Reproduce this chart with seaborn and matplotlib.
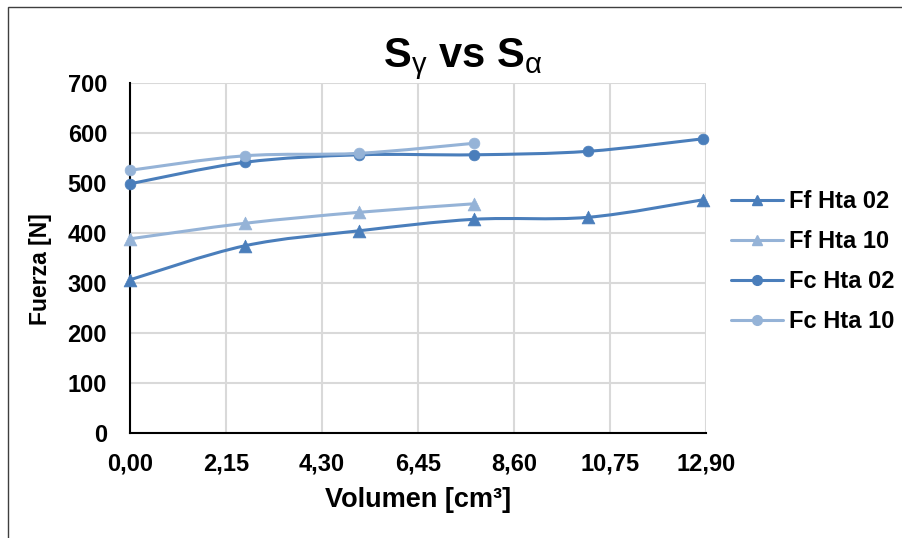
import numpy as np
import pandas as pd
import seaborn as sns
import matplotlib
matplotlib.use("Agg")
import matplotlib.pyplot as plt
from matplotlib.path import Path
from matplotlib.patches import PathPatch, Rectangle
from matplotlib.lines import Line2D

# ---- data -------------------------------------------------------------
volumen_long = [0.00, 2.57, 5.13, 7.70, 10.26, 12.83]
volumen_short = [0.00, 2.57, 5.13, 7.70]

ff_hta_02 = [307, 375, 405, 428, 432, 467]
ff_hta_10 = [389, 420, 442, 459]
fc_hta_02 = [499, 542, 557, 557, 564, 589]
fc_hta_10 = [526, 555, 560, 580]

series_names = ["Ff Hta 02", "Ff Hta 10", "Fc Hta 02", "Fc Hta 10"]
x_ticks = [0.00, 2.15, 4.30, 6.45, 8.60, 10.75, 12.90]
x_tick_labels = ["0,00", "2,15", "4,30", "6,45", "8,60", "10,75", "12,90"]
y_ticks = [0, 100, 200, 300, 400, 500, 600, 700]

# ---- style ------------------------------------------------------------
sns.set_style("white")
plt.rcParams["font.family"] = ["Liberation Sans", "DejaVu Sans"]
plt.rcParams["mathtext.fontset"] = "custom"
plt.rcParams["mathtext.rm"] = "Liberation Sans"
plt.rcParams["mathtext.bf"] = "Liberation Sans:bold"
plt.rcParams["mathtext.it"] = "Liberation Sans:italic"
for key in ["text.color", "axes.labelcolor", "xtick.color", "ytick.color"]:
    plt.rcParams[key] = "black"

dark = "#4a7ebb"
light = "#95b3d7"
tick_size = 17

frames = []
for name, xs, ys in [
    ("Ff Hta 02", volumen_long, ff_hta_02),
    ("Ff Hta 10", volumen_short, ff_hta_10),
    ("Fc Hta 02", volumen_long, fc_hta_02),
    ("Fc Hta 10", volumen_short, fc_hta_10),
]:
    frames.append(pd.DataFrame({"serie": name, "volumen": xs, "fuerza": ys}))
df = pd.concat(frames, ignore_index=True)

styles = {
    "Ff Hta 02": dict(color=dark, marker="^", s=85),
    "Ff Hta 10": dict(color=light, marker="^", s=85),
    "Fc Hta 02": dict(color=dark, marker="o", s=60),
    "Fc Hta 10": dict(color=light, marker="o", s=60),
}

fig = plt.figure(figsize=(9.03, 5.38), dpi=100)
ax = fig.add_axes([130 / 903, 1 - 433.3 / 538, (706 - 130) / 903, (433.3 - 83.3) / 538])


def smooth_path(xs, ys):
    """Cubic Bezier through the points (Catmull-Rom style smoothing)."""
    pts = np.column_stack([xs, ys]).astype(float)
    n = len(pts)
    verts = [pts[0]]
    codes = [Path.MOVETO]
    for i in range(n - 1):
        p0 = pts[i - 1] if i > 0 else pts[i]
        p1 = pts[i]
        p2 = pts[i + 1]
        p3 = pts[i + 2] if i + 2 < n else pts[i + 1]
        c1 = p1 + (p2 - p0) / 6.0
        c2 = p2 - (p3 - p1) / 6.0
        verts += [c1, c2, p2]
        codes += [Path.CURVE4] * 3
    return Path(verts, codes)


for k, name in enumerate(series_names):
    sub = df[df["serie"] == name]
    st = styles[name]
    patch = PathPatch(smooth_path(sub["volumen"], sub["fuerza"]), facecolor="none",
                      edgecolor=st["color"], lw=2.2, zorder=3 + 2 * k,
                      capstyle="round", joinstyle="round")
    ax.add_patch(patch)
    sns.scatterplot(data=sub, x="volumen", y="fuerza", ax=ax, color=st["color"],
                    marker=st["marker"], s=st["s"], edgecolor=st["color"],
                    linewidth=0.5, zorder=4 + 2 * k, legend=False, clip_on=False)

ax.set_xlim(0, 12.90)
ax.set_ylim(0, 700)
ax.set_xticks(x_ticks)
ax.set_xticklabels(x_tick_labels)
ax.set_yticks(y_ticks)
ax.grid(True, color="#d9d9d9", lw=1.5, zorder=0)
ax.set_axisbelow(True)
for side in ["top", "right"]:
    ax.spines[side].set_visible(False)
for side in ["left", "bottom"]:
    ax.spines[side].set_color("black")
    ax.spines[side].set_linewidth(1.5)
    ax.spines[side].set_zorder(2)
ax.tick_params(axis="y", length=0, pad=16.5, labelsize=tick_size, labelcolor="black")
ax.tick_params(axis="x", length=0, pad=14, labelsize=tick_size, labelcolor="black")
for lab in ax.get_xticklabels() + ax.get_yticklabels():
    lab.set_fontweight("bold")

ax.set_xlabel("Volumen [cm³]", fontsize=19.5, fontweight="bold", color="black")
ax.set_ylabel("Fuerza [N]", fontsize=16.5, fontweight="bold", color="black")
ax.xaxis.set_label_coords(0.5, -(499 - 433.3 - 12) / 350)
ax.yaxis.set_label_coords(-(130 - 52) / 576, 0.47)

fig.text(463 / 903, 1 - 67 / 538,
         r"$\mathbf{S}_{\mathrm{γ}}\ \mathbf{vs}\ \mathbf{S}_{\mathrm{α}}$",
         ha="center", va="baseline", fontsize=30, color="black")

handles = [
    Line2D([], [], color=styles[n]["color"], lw=2.2, marker=styles[n]["marker"],
           markersize=7.5 if styles[n]["marker"] == "^" else 7)
    for n in series_names
]
leg = fig.legend(handles, series_names, loc="upper left",
                 bbox_to_anchor=(731 / 903, 1 - 190.5 / 538), frameon=False,
                 borderpad=0, borderaxespad=0,
                 prop=dict(family="Liberation Sans", weight="bold", size=tick_size),
                 handlelength=2.2, handletextpad=0.25, labelspacing=0.72)
for t in leg.get_texts():
    t.set_color("black")

# chart-area frame
fig.patches.append(Rectangle((8 / 903, -0.05), 1.2, 1.05 - 7 / 538,
                             transform=fig.transFigure, fill=False,
                             edgecolor="#3f3f3f", lw=1.0))

fig.savefig("out.png", dpi=100)
